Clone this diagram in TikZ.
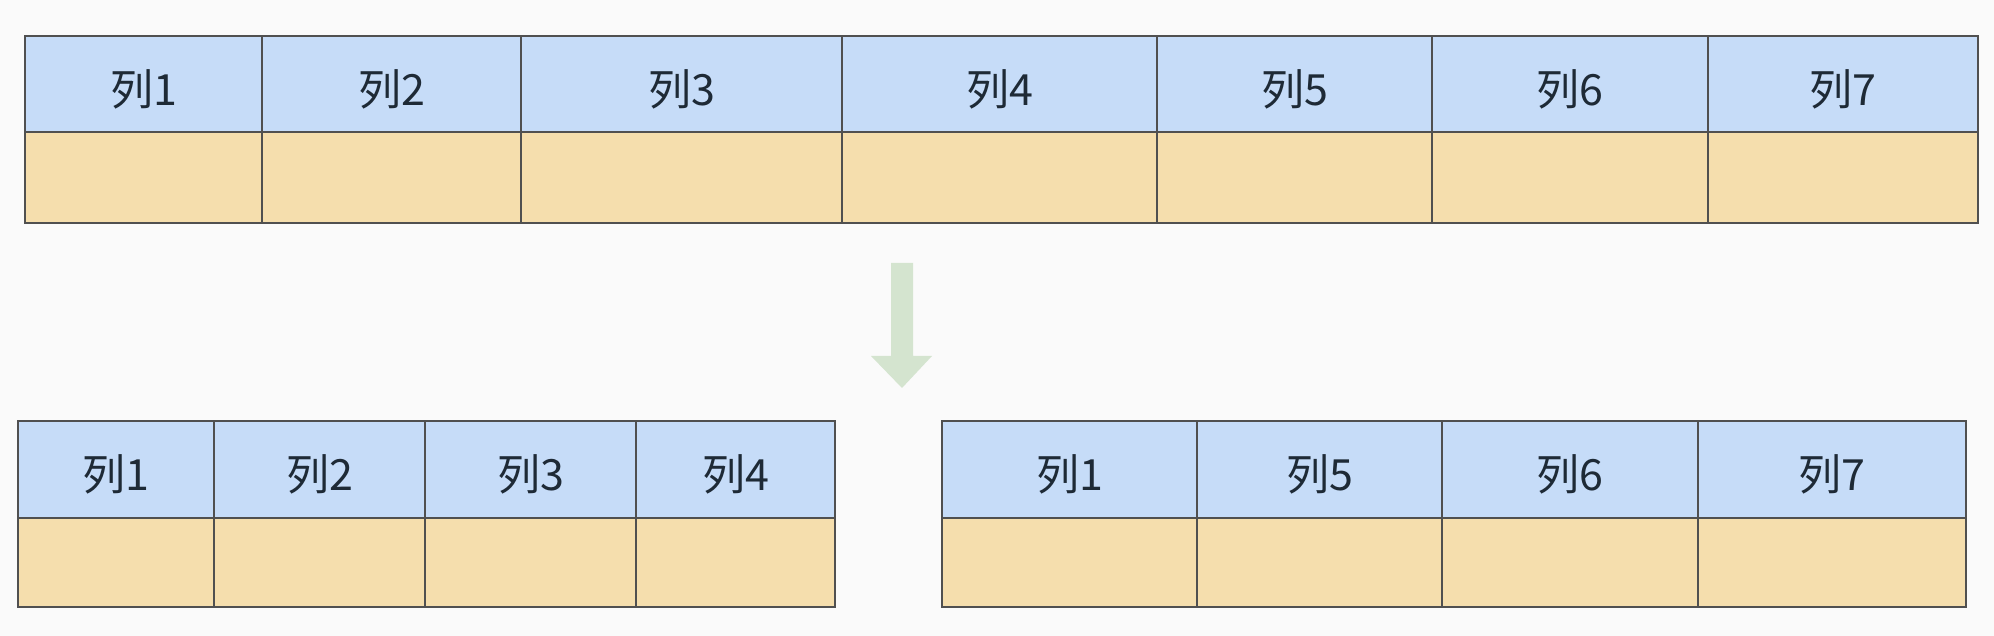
\documentclass[tikz,border=0pt]{standalone}
\usepackage{fontspec}
\newfontfamily\cjk{Noto Sans CJK SC}
\usetikzlibrary{positioning}

\definecolor{pagebg}{HTML}{FAFAFA}
\definecolor{headblue}{HTML}{C6DCF8}
\definecolor{bodytan}{HTML}{F5DEAD}
\definecolor{splitgreen}{HTML}{D4E4CF}
\definecolor{gridline}{HTML}{505050}
\definecolor{labeltext}{HTML}{1E2A36}

% column caption, sits a little low in its cell
\newcommand\colname[1]{\raisebox{-2.5pt}[\height][\depth]{列#1}}

\begin{document}
\begin{tikzpicture}[
  x=0.5pt,
  y=-0.5pt,
  font=\cjk\fontsize{21.5}{25}\selectfont,
  cell/.style={
    rectangle,
    draw=gridline,
    line width=0.8pt,
    inner sep=0pt,
    outer sep=0pt,
    text=labeltext
  },
  headcell/.style={
    cell,
    fill=headblue
  },
  bodycell/.style={
    cell,
    fill=bodytan
  }
]

% page
\fill[pagebg] (0,0) rectangle (1994,636);
\useasboundingbox (0,0) rectangle (1994,636);

% full table
\foreach \xa/\xb/\lab [count=\i] in {25/262/1, 262/521/2, 521/842/3, 842/1157/4, 1157/1432/5, 1432/1708/6, 1708/1978/7} {
  \node[headcell, minimum width={(\xb-\xa)*0.5pt}, minimum height=48pt]
    (full-h\i) at ({(\xa+\xb)/2}, 84) {\colname{\lab}};
  \node[bodycell, minimum width={(\xb-\xa)*0.5pt}, minimum height=45.5pt]
    (full-b\i) at ({(\xa+\xb)/2}, 177.5) {};
}

% split arrow
\fill[splitgreen] (891,263) -- (913,263) -- (913,356) -- (932,356)
  -- (902,388) -- (871,356) -- (891,356) -- cycle;

% left part
\foreach \xa/\xb/\lab [count=\i] in {18/214/1, 214/425/2, 425/636/3, 636/835/4} {
  \node[headcell, minimum width={(\xb-\xa)*0.5pt}, minimum height=48.5pt]
    (left-h\i) at ({(\xa+\xb)/2}, 469.5) {\colname{\lab}};
  \node[bodycell, minimum width={(\xb-\xa)*0.5pt}, minimum height=44.5pt]
    (left-b\i) at ({(\xa+\xb)/2}, 562.5) {};
}

% right part
\foreach \xa/\xb/\lab [count=\i] in {942/1197/1, 1197/1442/5, 1442/1698/6, 1698/1966/7} {
  \node[headcell, minimum width={(\xb-\xa)*0.5pt}, minimum height=48.5pt]
    (right-h\i) at ({(\xa+\xb)/2}, 469.5) {\colname{\lab}};
  \node[bodycell, minimum width={(\xb-\xa)*0.5pt}, minimum height=44.5pt]
    (right-b\i) at ({(\xa+\xb)/2}, 562.5) {};
}

\end{tikzpicture}
\end{document}
